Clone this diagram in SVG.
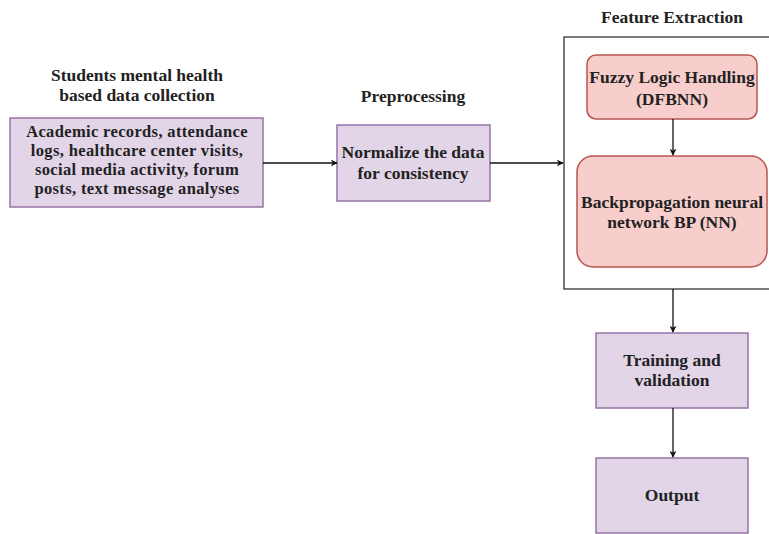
<svg xmlns="http://www.w3.org/2000/svg" width="769" height="534" viewBox="0 0 769 534">
<defs>
<style>
.t{font-family:"Liberation Serif","Times New Roman",serif;font-weight:bold;font-size:17.5px;fill:#222;text-anchor:middle}
.s{font-size:16.5px;letter-spacing:0.35px}
.p{fill:#e1d5e7;stroke:#9673a6;stroke-width:1.5}
.r{fill:#f8cecc;stroke:#b85450;stroke-width:1.5}
.c{stroke:#111;stroke-width:1.3;fill:none;marker-end:url(#a)}
</style>
<marker id="a" viewBox="0 0 10 10" refX="9" refY="5" markerWidth="7" markerHeight="7" orient="auto" markerUnits="userSpaceOnUse"><path d="M0,0 L10,5 L0,10 L3,5 z" fill="#111"/></marker>
</defs>
<rect width="769" height="534" fill="#fff"/>
<g id="collection">
<text class="t" x="137" y="81">Students mental health</text>
<text class="t" x="137" y="101">based data collection</text>
<rect class="p" x="10" y="118" width="253" height="89"/>
<text class="t s" x="137" y="137">Academic records, attendance</text>
<text class="t s" x="137" y="156">logs, healthcare center visits,</text>
<text class="t s" x="137" y="175">social media activity, forum</text>
<text class="t s" x="137" y="194">posts, text message analyses</text>
</g>
<g id="preprocessing">
<text class="t" x="413" y="102">Preprocessing</text>
<rect class="p" x="337" y="125" width="153" height="76"/>
<text class="t" x="413" y="158">Normalize the data</text>
<text class="t" x="413" y="179">for consistency</text>
</g>
<g id="feature">
<text class="t" x="672" y="23">Feature Extraction</text>
<rect x="564" y="37" width="215" height="252" fill="#fff" stroke="#333" stroke-width="1.3"/>
</g>
<g id="fuzzy">
<rect class="r" x="587" y="55" width="170" height="64" rx="9"/>
<text class="t" x="672" y="83">Fuzzy Logic Handling</text>
<text class="t" x="672" y="105">(DFBNN)</text>
</g>
<g id="bp">
<rect class="r" x="577" y="156" width="190" height="111" rx="16"/>
<text class="t" x="672" y="208">Backpropagation neural</text>
<text class="t" x="672" y="228">network BP (NN)</text>
</g>
<g id="training">
<rect class="p" x="596" y="333" width="152" height="75"/>
<text class="t" x="672" y="366">Training and</text>
<text class="t" x="672" y="386">validation</text>
</g>
<g id="output">
<rect class="p" x="596" y="458" width="152" height="75"/>
<text class="t" x="672" y="501">Output</text>
</g>
<g id="connectors">
<path class="c" d="M263,163 L337,163"/>
<path class="c" d="M490,163 L563,163"/>
<path class="c" d="M673,119 L673,155"/>
<path class="c" d="M673,289 L673,332"/>
<path class="c" d="M673,408 L673,457"/>
</g>
</svg>
